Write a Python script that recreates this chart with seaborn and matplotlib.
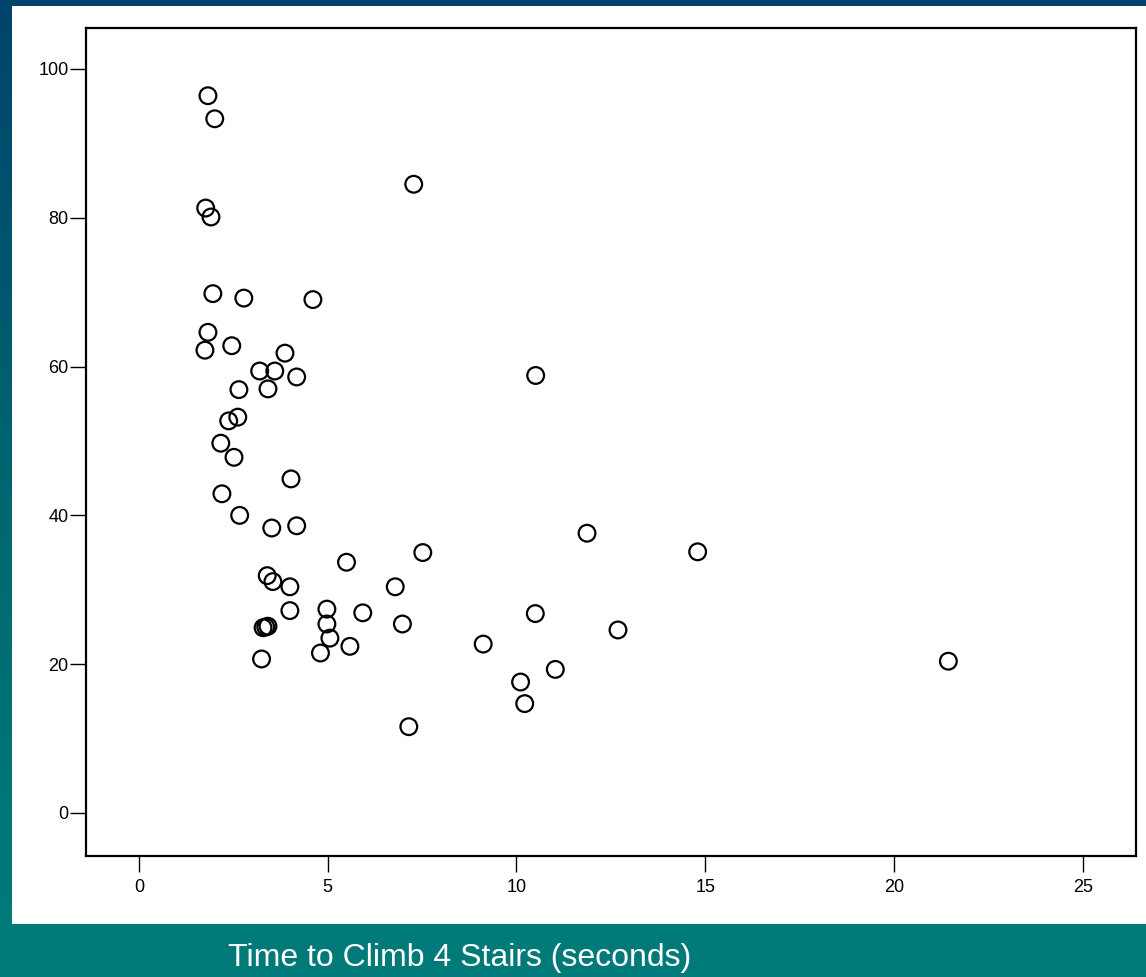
import numpy as np
import pandas as pd
import matplotlib
matplotlib.use("Agg")
import matplotlib.pyplot as plt
import seaborn as sns
from matplotlib.colors import LinearSegmentedColormap
from matplotlib.patches import Rectangle

# ---- data ----
time_sec = [1.83, 2.01, 1.77, 1.91, 7.28, 1.96, 2.78, 4.61, 1.83, 1.75,
            2.46, 3.87, 3.20, 3.60, 4.18, 10.51, 2.65, 3.42, 2.38, 2.62,
            2.17, 2.52, 4.03, 2.20, 2.67, 3.52, 4.18, 11.87, 7.52, 14.80,
            5.50, 3.40, 3.55, 4.00, 6.79, 4.00, 4.98, 5.93, 10.50, 4.98,
            6.98, 3.29, 3.36, 3.42, 5.06, 12.69, 9.12, 5.59, 4.81, 3.25,
            11.03, 21.44, 10.11, 10.22, 7.15]
score = [96.4, 93.3, 81.3, 80.1, 84.5, 69.8, 69.2, 69.0, 64.6, 62.2,
         62.8, 61.8, 59.4, 59.4, 58.6, 58.8, 56.9, 57.0, 52.7, 53.2,
         49.7, 47.8, 44.9, 42.9, 40.0, 38.3, 38.6, 37.6, 35.0, 35.1,
         33.7, 31.9, 31.1, 30.4, 30.4, 27.2, 27.4, 26.9, 26.8, 25.4,
         25.4, 24.9, 25.0, 25.1, 23.5, 24.6, 22.7, 22.4, 21.5, 20.7,
         19.3, 20.4, 17.6, 14.7, 11.6]
x_ticks = [0, 5, 10, 15, 20, 25]
y_ticks = [0, 20, 40, 60, 80, 100]
x_label = "Time to Climb 4 Stairs (seconds)"

df = pd.DataFrame({"time": time_sec, "score": score})

sns.set_theme(style="white")
plt.rcParams["font.family"] = ["Liberation Sans", "DejaVu Sans"]

W, H = 1146, 977
fig = plt.figure(figsize=(W / 100, H / 100), dpi=100)

# background gradient
bg = fig.add_axes([0, 0, 1, 1])
bg.set_axis_off()
cmap = LinearSegmentedColormap.from_list(
    "bgc", [(0.0, "#00436c"), (0.45, "#00636f"), (0.85, "#007878"), (1.0, "#007a7a")])
grad = np.linspace(0, 1, 256).reshape(-1, 1)
bg.imshow(grad, aspect="auto", cmap=cmap, extent=[0, 1, 0, 1], origin="upper")
bg.set_xlim(0, 1)
bg.set_ylim(0, 1)
# white panel
bg.add_patch(Rectangle((12 / W, 1 - 924 / H), 1 - 12 / W, (924 - 6) / H,
                       facecolor="white", edgecolor="none", transform=bg.transAxes))

ax = fig.add_axes([86 / W, 1 - 856 / H, (1136 - 86) / W, (856 - 28) / H])
ax.set_facecolor("white")
sns.scatterplot(data=df, x="time", y="score", ax=ax, s=145, marker="o",
                facecolors="none", edgecolors="black", linewidth=1.6)

ax.set_xlim(-1.40, 26.41)
ax.set_ylim(-5.78, 105.5)
ax.set_xticks(x_ticks)
ax.set_yticks(y_ticks)
ax.set_xticklabels([str(t) for t in x_ticks])
ax.set_yticklabels([str(t) for t in y_ticks])
ax.set_xlabel("")
ax.set_ylabel("")
for sp in ax.spines.values():
    sp.set_visible(True)
    sp.set_color("black")
    sp.set_linewidth(1.6)
ax.tick_params(axis="both", direction="out", length=11.5, width=1.0,
               color="black", labelcolor="black", labelsize=13)
ax.tick_params(axis="y", pad=1)
ax.tick_params(axis="x", pad=5)
ax.tick_params(bottom=True, left=True)
ax.grid(False)

fig.text(228 / W, 1 - 958 / H, x_label, color="white", fontsize=23,
         ha="left", va="center")

fig.savefig("out.png", dpi=100)
